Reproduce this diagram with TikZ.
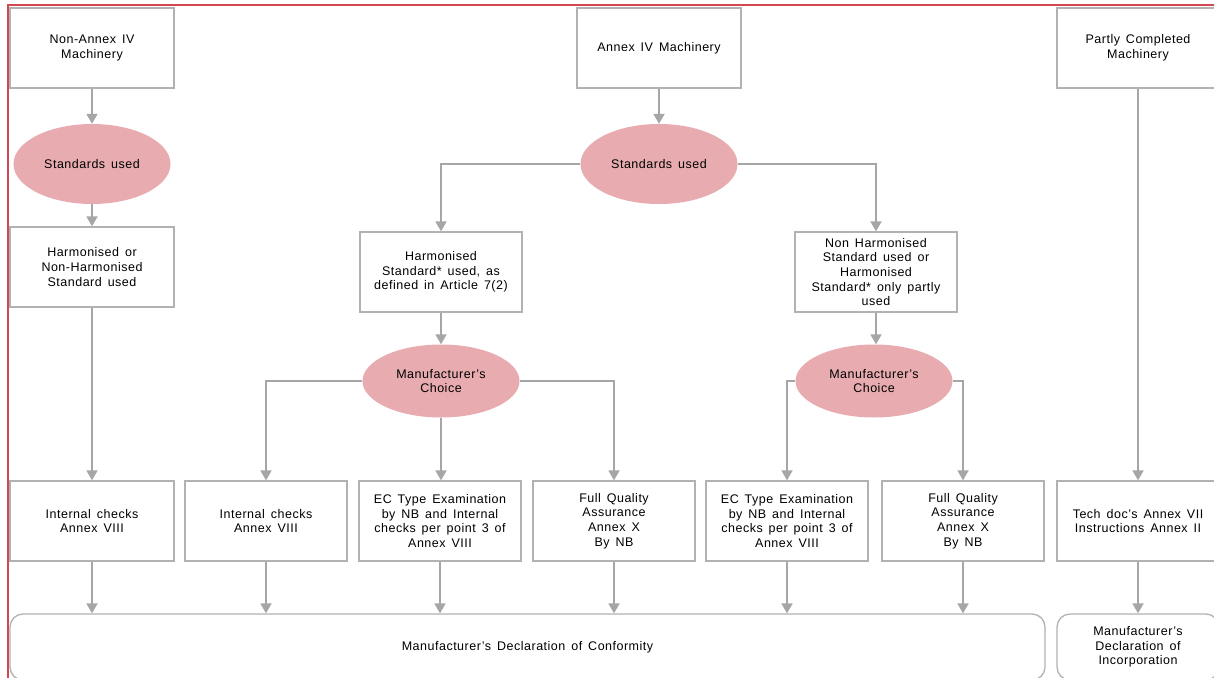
\documentclass[tikz,border=0pt]{standalone}
\usepackage{fontspec}
\setmainfont{Liberation Sans}[LetterSpace=4,WordSpace=1.5]
\usetikzlibrary{shapes.geometric,arrows.meta}
\definecolor{boxgray}{RGB}{178,178,178}
\definecolor{linegray}{RGB}{166,166,166}
\definecolor{pinkfill}{RGB}{232,172,176}
\definecolor{framered}{RGB}{208,72,82}
\tikzset{
  box/.style={draw=boxgray, line width=1.3pt, fill=white, minimum width=164pt, minimum height=80pt,
    align=center, inner sep=2pt, font=\fontsize{12.5}{14.6}\selectfont},
  rbox/.style={box, rounded corners=13pt},
  oval/.style={ellipse, fill=pinkfill, draw=none, minimum width=157pt, minimum height=80pt,
    inner sep=0pt, align=center, font=\fontsize{12.5}{14.6}\selectfont},
  conn/.style={draw=linegray, line width=1.8pt, -{Triangle[width=11pt,length=10pt]}},
  frame/.style={draw=framered, line width=1.6pt}
}
\begin{document}
\begin{tikzpicture}[x=1pt,y=-1pt]
\useasboundingbox (0,0) rectangle (1214,677);
\clip (0,0) rectangle (1214,677);
\fill[white] (0,0) rectangle (1214,677);
\draw[frame] (8,5) rectangle (1240,700);

% left column
\node[box] (na) at (92,48) {Non-Annex IV\\Machinery};
\node[oval] (su1) at (92,164) {Standards used};
\node[box] (hn) at (92,267) {Harmonised or\\Non-Harmonised\\Standard used};
\node[box] (ic1) at (92,521) {Internal checks\\Annex VIII};

% middle
\node[box] (a4) at (659,48) {Annex IV Machinery};
\node[oval] (su2) at (659,164) {Standards used};
\node[box, minimum width=162pt] (hs) at (441,272) {Harmonised\\Standard* used, as\\defined in Article 7(2)};
\node[box, minimum width=162pt] (nh) at (876,272) {Non Harmonised\\Standard used or\\Harmonised\\Standard* only partly\\used};
\node[oval, minimum height=73pt] (mc1) at (441,381) {Manufacturer's\\Choice};
\node[oval, minimum height=73pt] (mc2) at (874,381) {Manufacturer's\\Choice};

\node[box, minimum width=162pt] (ic2) at (266,521) {Internal checks\\Annex VIII};
\node[box, minimum width=162pt] (ec1) at (440,521) {EC Type Examination\\by NB and Internal\\checks per point 3 of\\Annex VIII};
\node[box, minimum width=162pt] (fq1) at (614,521) {Full Quality\\Assurance\\Annex X\\By NB};
\node[box, minimum width=162pt] (ec2) at (787,521) {EC Type Examination\\by NB and Internal\\checks per point 3 of\\Annex VIII};
\node[box, minimum width=162pt] (fq2) at (963,521) {Full Quality\\Assurance\\Annex X\\By NB};

% right column
\node[box, minimum width=162pt] (pc) at (1138,48) {Partly Completed\\Machinery};
\node[box, minimum width=162pt] (td) at (1138,521) {Tech doc's Annex VII\\Instructions Annex II};

% bottom
\node[rbox, minimum width=1035pt, minimum height=66pt] (doc) at (527.5,647) {Manufacturer's Declaration of Conformity};
\node[rbox, minimum width=162pt, minimum height=66pt] (doi) at (1138,647) {Manufacturer's\\Declaration of\\Incorporation};

% connectors
\draw[conn] (na.south) -- (su1.north);
\draw[conn] (su1.south) -- (hn.north);
\draw[conn] (hn.south) -- (ic1.north);

\draw[conn] (a4.south) -- (su2.north);
\draw[conn] (su2.west) -| (hs.north);
\draw[conn] (su2.east) -| (nh.north);
\draw[conn] (hs.south) -- (hs.south |- mc1.north);
\draw[conn] (nh.south) -- (nh.south |- mc2.north);

\draw[conn] (mc1.west) -| (ic2.north);
\draw[conn] (mc1.south) -- (mc1.south |- ec1.north);
\draw[conn] (mc1.east) -| (fq1.north);
\draw[conn] (mc2.west) -| (ec2.north);
\draw[conn] (mc2.east) -| (fq2.north);

\draw[conn] (pc.south) -- (td.north);

\foreach \n in {ic1,ic2,ec1,fq1,ec2,fq2}{
  \draw[conn] (\n.south) -- (\n.south |- doc.north);
}
\draw[conn] (td.south) -- (doi.north);
\end{tikzpicture}
\end{document}
